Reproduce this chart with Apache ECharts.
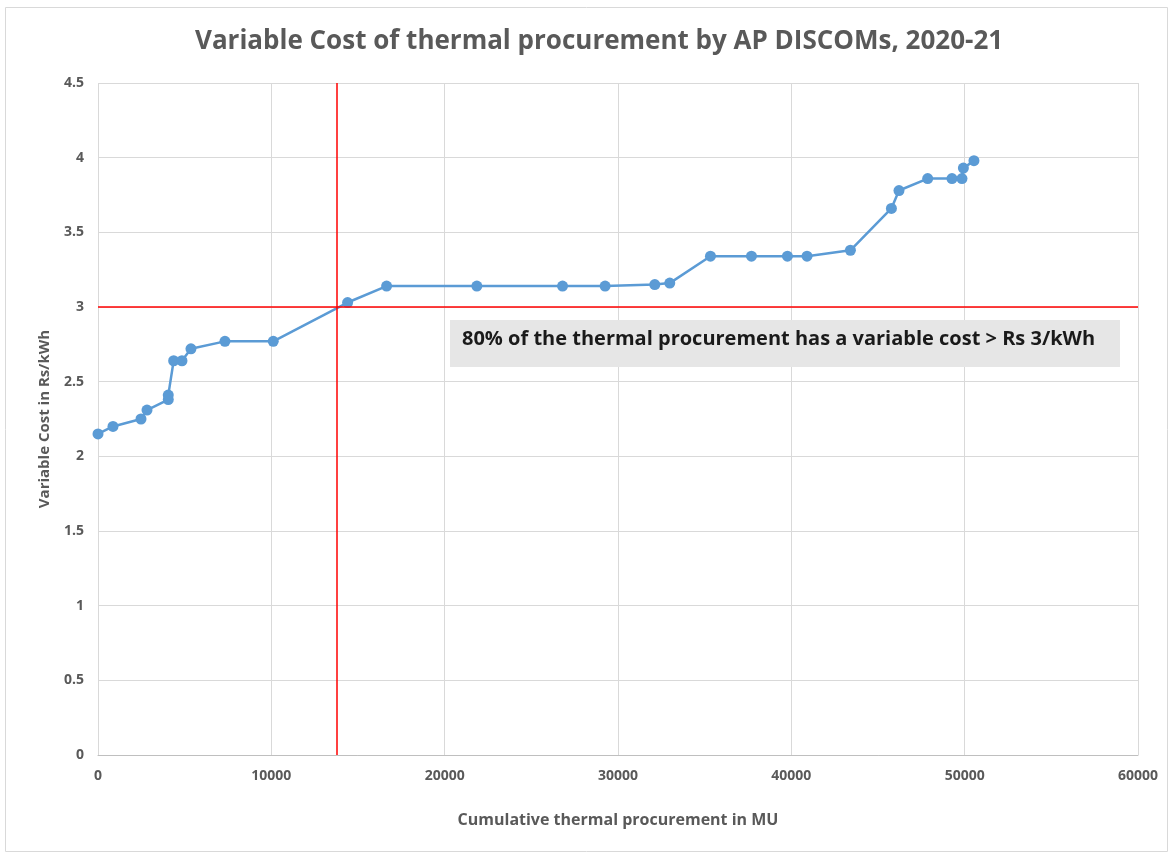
<!DOCTYPE html>
<html><head><meta charset="utf-8">
<script src="https://cdn.jsdelivr.net/npm/echarts@6/dist/echarts.min.js"></script>
<style>html,body{margin:0;padding:0;background:#fff}#c{width:1169px;height:852px}</style>
</head><body><div id="c"></div>
<script>
const cumulativeMU = [0, 865, 2480, 2826, 4054, 4054, 4365, 4844, 5363, 7324, 10110, 14400, 16650, 21857, 26800, 29256, 32122, 32987, 35334, 37699, 39775, 40905, 43408, 45773, 46211, 47866, 49268, 49844, 49925, 50536];
const variableCost = [2.15, 2.2, 2.25, 2.31, 2.38, 2.41, 2.64, 2.64, 2.72, 2.77, 2.77, 3.03, 3.14, 3.14, 3.14, 3.14, 3.15, 3.16, 3.34, 3.34, 3.34, 3.34, 3.38, 3.66, 3.78, 3.86, 3.86, 3.86, 3.93, 3.98];
const thresholdX = 13780;
const thresholdY = 3;
const titleText = 'Variable Cost of thermal procurement by AP DISCOMs, 2020-21';
const noteText = '80% of the thermal procurement has a variable cost > Rs 3/kWh';
const xName = 'Cumulative thermal procurement in MU';
const yName = 'Variable Cost in Rs/kWh';

const points = cumulativeMU.map((x, i) => [x, variableCost[i]]);
const chart = echarts.init(document.getElementById('c'));
const font = 'Open Sans';
chart.setOption({
  animation: false,
  title: {
    text: titleText, left: 190, top: 24,
    textStyle: {fontFamily: font, fontSize: 26, fontWeight: 'bold', color: '#595959'}
  },
  grid: {left: 98, right: 31, top: 83, bottom: 97},
  xAxis: {
    type: 'value', min: 0, max: 60000, interval: 10000,
    name: xName, nameLocation: 'middle', nameGap: 57,
    nameTextStyle: {fontFamily: font, fontSize: 16, fontWeight: 'bold', color: '#595959'},
    axisLine: {show: true, lineStyle: {color: '#bfbfbf'}},
    axisTick: {show: false},
    axisLabel: {fontFamily: font, fontSize: 14, fontWeight: 'bold', color: '#595959', margin: 14,
                formatter: v => String(v)},
    splitLine: {show: true, lineStyle: {color: '#d9d9d9', width: 1}}
  },
  yAxis: {
    type: 'value', min: 0, max: 4.5, interval: 0.5,
    name: yName, nameLocation: 'middle', nameGap: 46, nameRotate: 90,
    nameTextStyle: {fontFamily: font, fontSize: 15, fontWeight: 'bold', color: '#595959'},
    axisLine: {show: false},
    axisTick: {show: false},
    axisLabel: {fontFamily: font, fontSize: 14, fontWeight: 'bold', color: '#595959', margin: 14},
    splitLine: {show: true, lineStyle: {color: '#d9d9d9', width: 1}}
  },
  series: [{
    type: 'line', data: points,
    symbol: 'circle', symbolSize: 11,
    lineStyle: {color: '#5b9bd5', width: 2.5},
    itemStyle: {color: '#5b9bd5'},
    markLine: {
      silent: true, symbol: 'none', label: {show: false},
      lineStyle: {color: '#ff0000', width: 1.5, type: 'solid'},
      data: [{xAxis: thresholdX}, {yAxis: thresholdY}]
    }
  }],
  graphic: [
    {type: 'rect', left: 3, top: 5, shape: {width: 1162, height: 844},
     style: {fill: 'none', stroke: '#d9d9d9', lineWidth: 1}, z: -1},
    {type: 'rect', left: 450, top: 320, shape: {width: 670, height: 47},
     style: {fill: '#e6e6e6'}, z: 10},
    {type: 'text', left: 462, top: 329, z: 11,
     style: {text: noteText, fontFamily: font, fontSize: 20, fontWeight: 'bold', fill: '#1a1a1a'}}
  ]
});
</script></body></html>
